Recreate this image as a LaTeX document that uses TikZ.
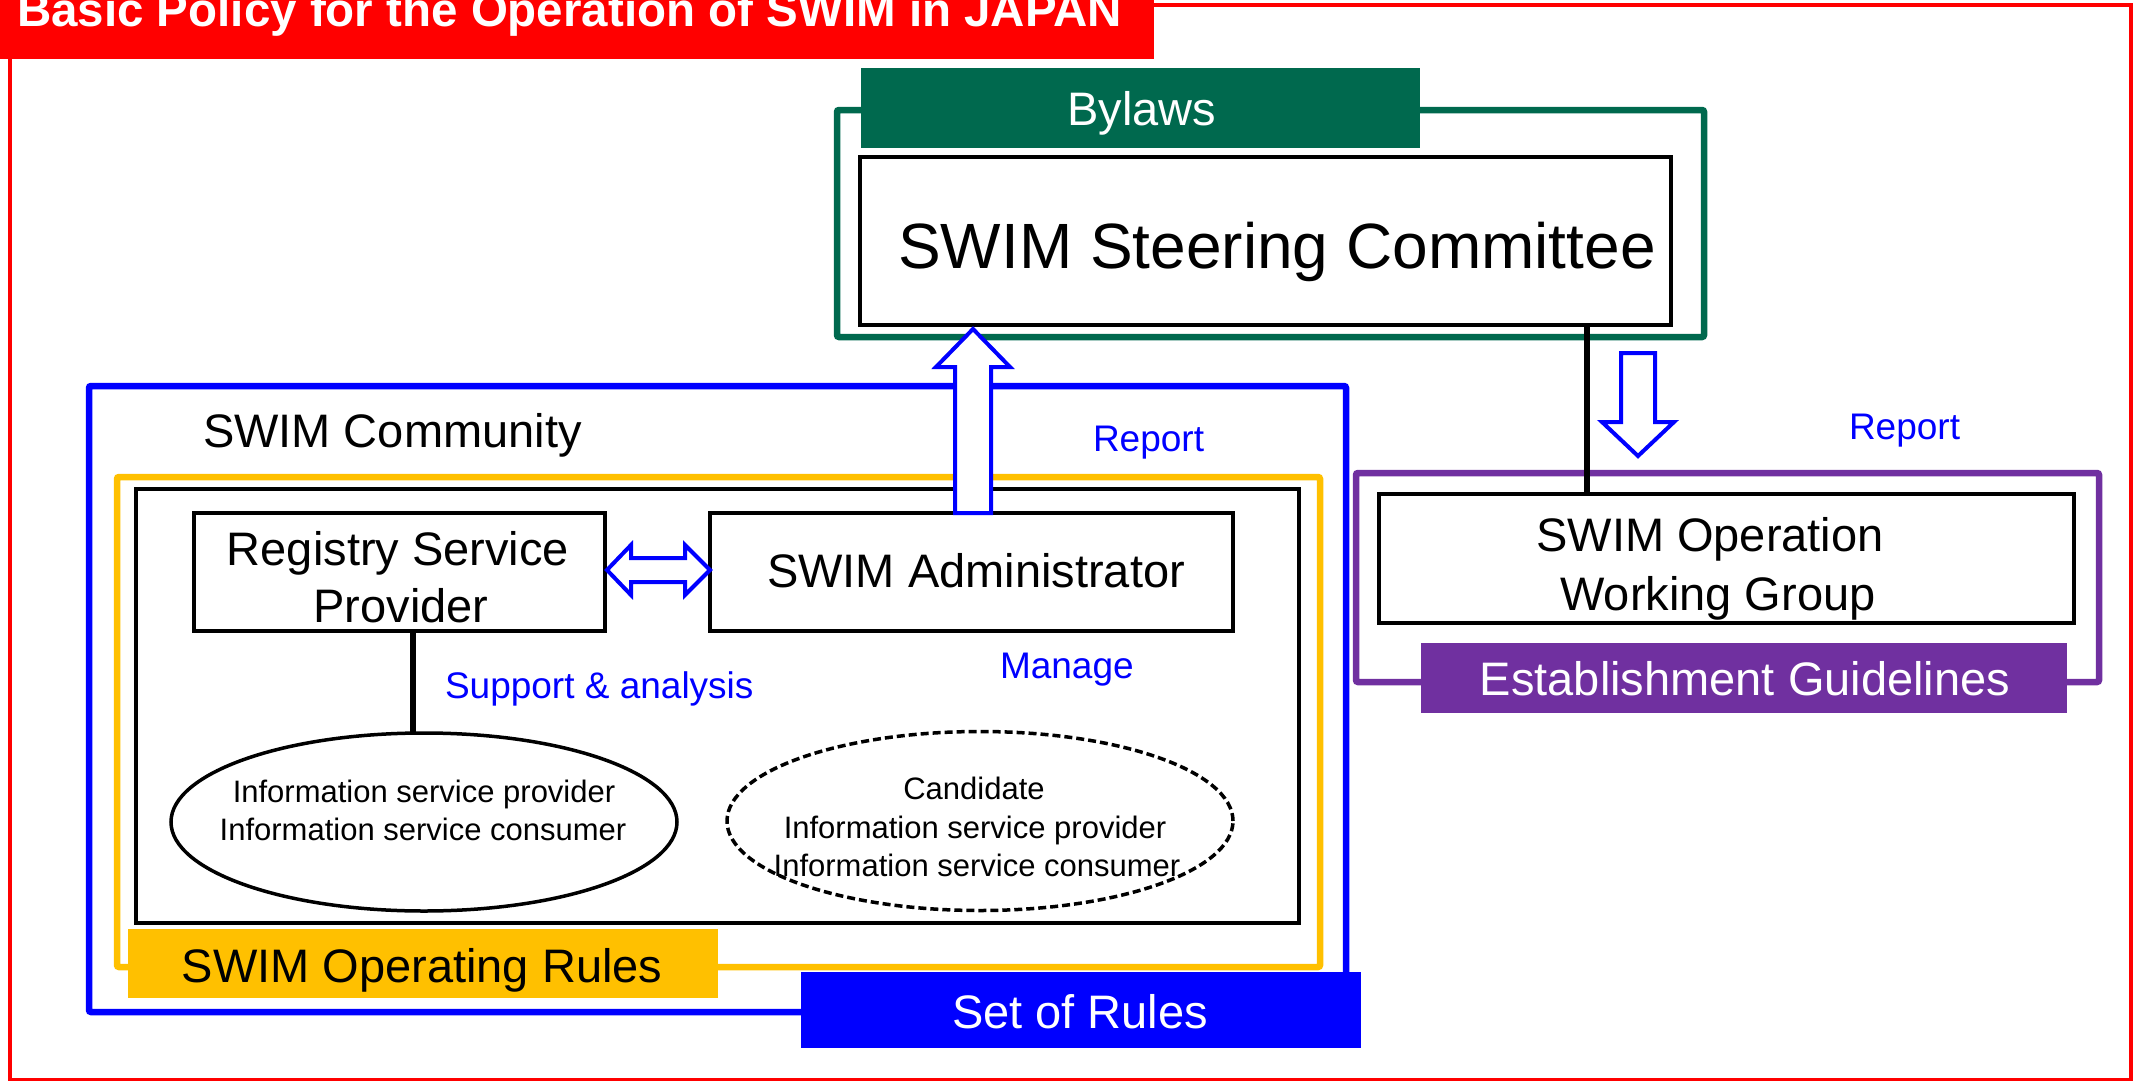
\documentclass[tikz,border=0pt]{standalone}
\usepackage{fontspec}
\setmainfont{Liberation Sans}
\usetikzlibrary{shapes.geometric,calc}
\definecolor{policyred}{RGB}{255,0,0}
\definecolor{bylawgreen}{RGB}{0,105,78}
\definecolor{ruleblue}{RGB}{0,0,255}
\definecolor{opyellow}{RGB}{255,192,0}
\definecolor{guidepurple}{RGB}{112,48,160}
\newcommand{\pxfont}[1]{\fontsize{#1}{#1}\selectfont}

\begin{document}
\begin{tikzpicture}[x=1pt,y=-1pt,
  every node/.style={inner sep=0pt,outer sep=0pt},
  frame/.style={draw,rectangle,line width=6.5pt,rounded corners=2pt},
  box/.style={draw=black,rectangle,line width=4pt,fill=white},
  tag/.style={rectangle,draw=none},
  txt/.style={anchor=base,font=\pxfont{47}},
  note/.style={anchor=base west,font=\pxfont{37},text=ruleblue},
  small/.style={anchor=base,font=\pxfont{31}},
  hollow/.style={draw=ruleblue,fill=white,line width=4pt,line join=miter},
  tie/.style={draw=black,line width=5.5pt}]
\useasboundingbox (0,0) rectangle (2134,1081);
\clip (0,0) rectangle (2134,1081);

% outer policy frame and its title bar
\node[draw=policyred,rectangle,line width=4pt,minimum width=2121pt,minimum height=1075pt] (policy) at (1070.5,542.5) {};
\node[tag,fill=policyred,minimum width=1154pt,minimum height=59pt] (titlebar) at (577,29.5) {};
\node[anchor=base west,text=white,font=\pxfont{47.5}\bfseries] (title) at (17,27) {Basic Policy for the Operation of SWIM in JAPAN};

% bylaws frame with the steering committee
\node[frame,draw=bylawgreen,minimum width=867pt,minimum height=227pt] (bylawframe) at (1270.5,223.5) {};
\node[tag,fill=bylawgreen,minimum width=559pt,minimum height=80pt] (bylawtag) at (1140.5,108) {};
\node[txt,text=white] (bylawtxt) at (1142,125) {Bylaws};
\node[box,minimum width=811pt,minimum height=168pt] (steer) at (1265.5,241) {};
\node[anchor=base,font=\pxfont{64}] (steertxt) at (1277,268) {SWIM Steering Committee};

% SWIM community with its operating rules
\node[frame,draw=ruleblue,minimum width=1257pt,minimum height=626pt] (community) at (717.5,699) {};
\node[anchor=base west,font=\pxfont{47}] (commtxt) at (203,447) {SWIM Community};
\node[note] (report1) at (1093,451) {Report};
\node[frame,draw=opyellow,minimum width=1203pt,minimum height=490pt] (oprules) at (718.5,722) {};
\node[draw=black,rectangle,line width=4pt,minimum width=1163pt,minimum height=434pt] (members) at (717.5,706) {};

\node[box,minimum width=411pt,minimum height=118pt] (rsp) at (399.5,572) {};
\node[txt] (rspA) at (398,565) {Registry Service};
\node[txt] (rspB) at (401,622) {Provider};
\node[box,minimum width=523pt,minimum height=118pt] (adm) at (971.5,572) {};
\node[txt] (admtxt) at (976,587) {SWIM Administrator};

\node[ellipse,draw=black,line width=3.5pt,fill=white,minimum width=506pt,minimum height=178pt] (isp) at (424,822) {};
\node[small] (ispA) at (424,802) {Information service provider};
\node[small] (ispB) at (423,840) {Information service consumer};
\node[ellipse,draw=black,line width=3.5pt,dash pattern=on 8pt off 4pt,fill=white,minimum width=506pt,minimum height=179pt] (cand) at (980,821) {};
\node[small] (candA) at (974,799) {Candidate};
\node[small] (candB) at (975,838) {Information service provider};
\node[small] (candC) at (977,876) {Information service consumer};

\node[note] (support) at (445,698) {Support \& analysis};
\node[note] (manage) at (1000,678) {Manage};

\node[tag,fill=opyellow,minimum width=590pt,minimum height=69pt] (optag) at (423,963.5) {};
\node[txt] (optxt) at (422,982) {SWIM Operating Rules};
\node[tag,fill=ruleblue,minimum width=560pt,minimum height=76pt] (settag) at (1081,1010) {};
\node[txt,text=white] (settxt) at (1080,1028) {Set of Rules};

% registry provider supports the information services
\coordinate (lx) at (413,0);
\draw[tie] (rsp.south -| lx) -- (isp.north -| lx);

% exchange between registry provider and administrator
\coordinate (dl) at ([xshift=2pt,yshift=2pt]rsp.east);
\coordinate (dr) at ([yshift=2pt]adm.west);
\draw[hollow] (dl) -- ($(dl)+(24,-25)$) -- ($(dl)+(24,-12)$) -- ($(dr)+(-25,-12)$) -- ($(dr)+(-25,-25)$) -- (dr)
  -- ($(dr)+(-25,25)$) -- ($(dr)+(-25,12)$) -- ($(dl)+(24,12)$) -- ($(dl)+(24,25)$) -- cycle;

% administrator reports to the steering committee
\coordinate (ux) at (973,0);
\coordinate (upfoot) at (adm.north -| ux);
\coordinate (uptip) at ([yshift=-4pt]steer.south -| ux);
\draw[hollow] ($(upfoot)+(-18,0)$) -- ($(uptip)+(-18,38)$) -- ($(uptip)+(-37,38)$) -- (uptip)
  -- ($(uptip)+(37,38)$) -- ($(uptip)+(18,38)$) -- ($(upfoot)+(18,0)$) -- cycle;

% operation working group
\node[frame,draw=guidepurple,minimum width=743pt,minimum height=209pt] (guideframe) at (1727.5,577.5) {};
\node[box,minimum width=695pt,minimum height=129pt] (wg) at (1726.5,558.5) {};
\node[txt] (wgA) at (1710,551) {SWIM Operation};
\node[txt] (wgB) at (1718,610) {Working Group};
\node[tag,fill=guidepurple,minimum width=646pt,minimum height=70pt] (guidetag) at (1744,678) {};
\node[txt,text=white] (guidetxt) at (1745,695) {Establishment Guidelines};
\node[note] (report2) at (1849,439) {Report};

% steering committee directs the working group
\coordinate (sx) at (1587,0);
\draw[tie] (steer.south -| sx) -- (wg.north -| sx);
\coordinate (dx) at (1638,0);
\coordinate (downtop) at ([yshift=-28pt]steer.south -| dx);
\coordinate (downtip) at ([yshift=38pt]wg.north -| dx);
\draw[hollow] ($(downtop)+(-17,0)$) -- ($(downtip)+(-17,-34)$) -- ($(downtip)+(-36,-34)$) -- (downtip)
  -- ($(downtip)+(36,-34)$) -- ($(downtip)+(17,-34)$) -- ($(downtop)+(17,0)$) -- cycle;
\end{tikzpicture}
\end{document}
